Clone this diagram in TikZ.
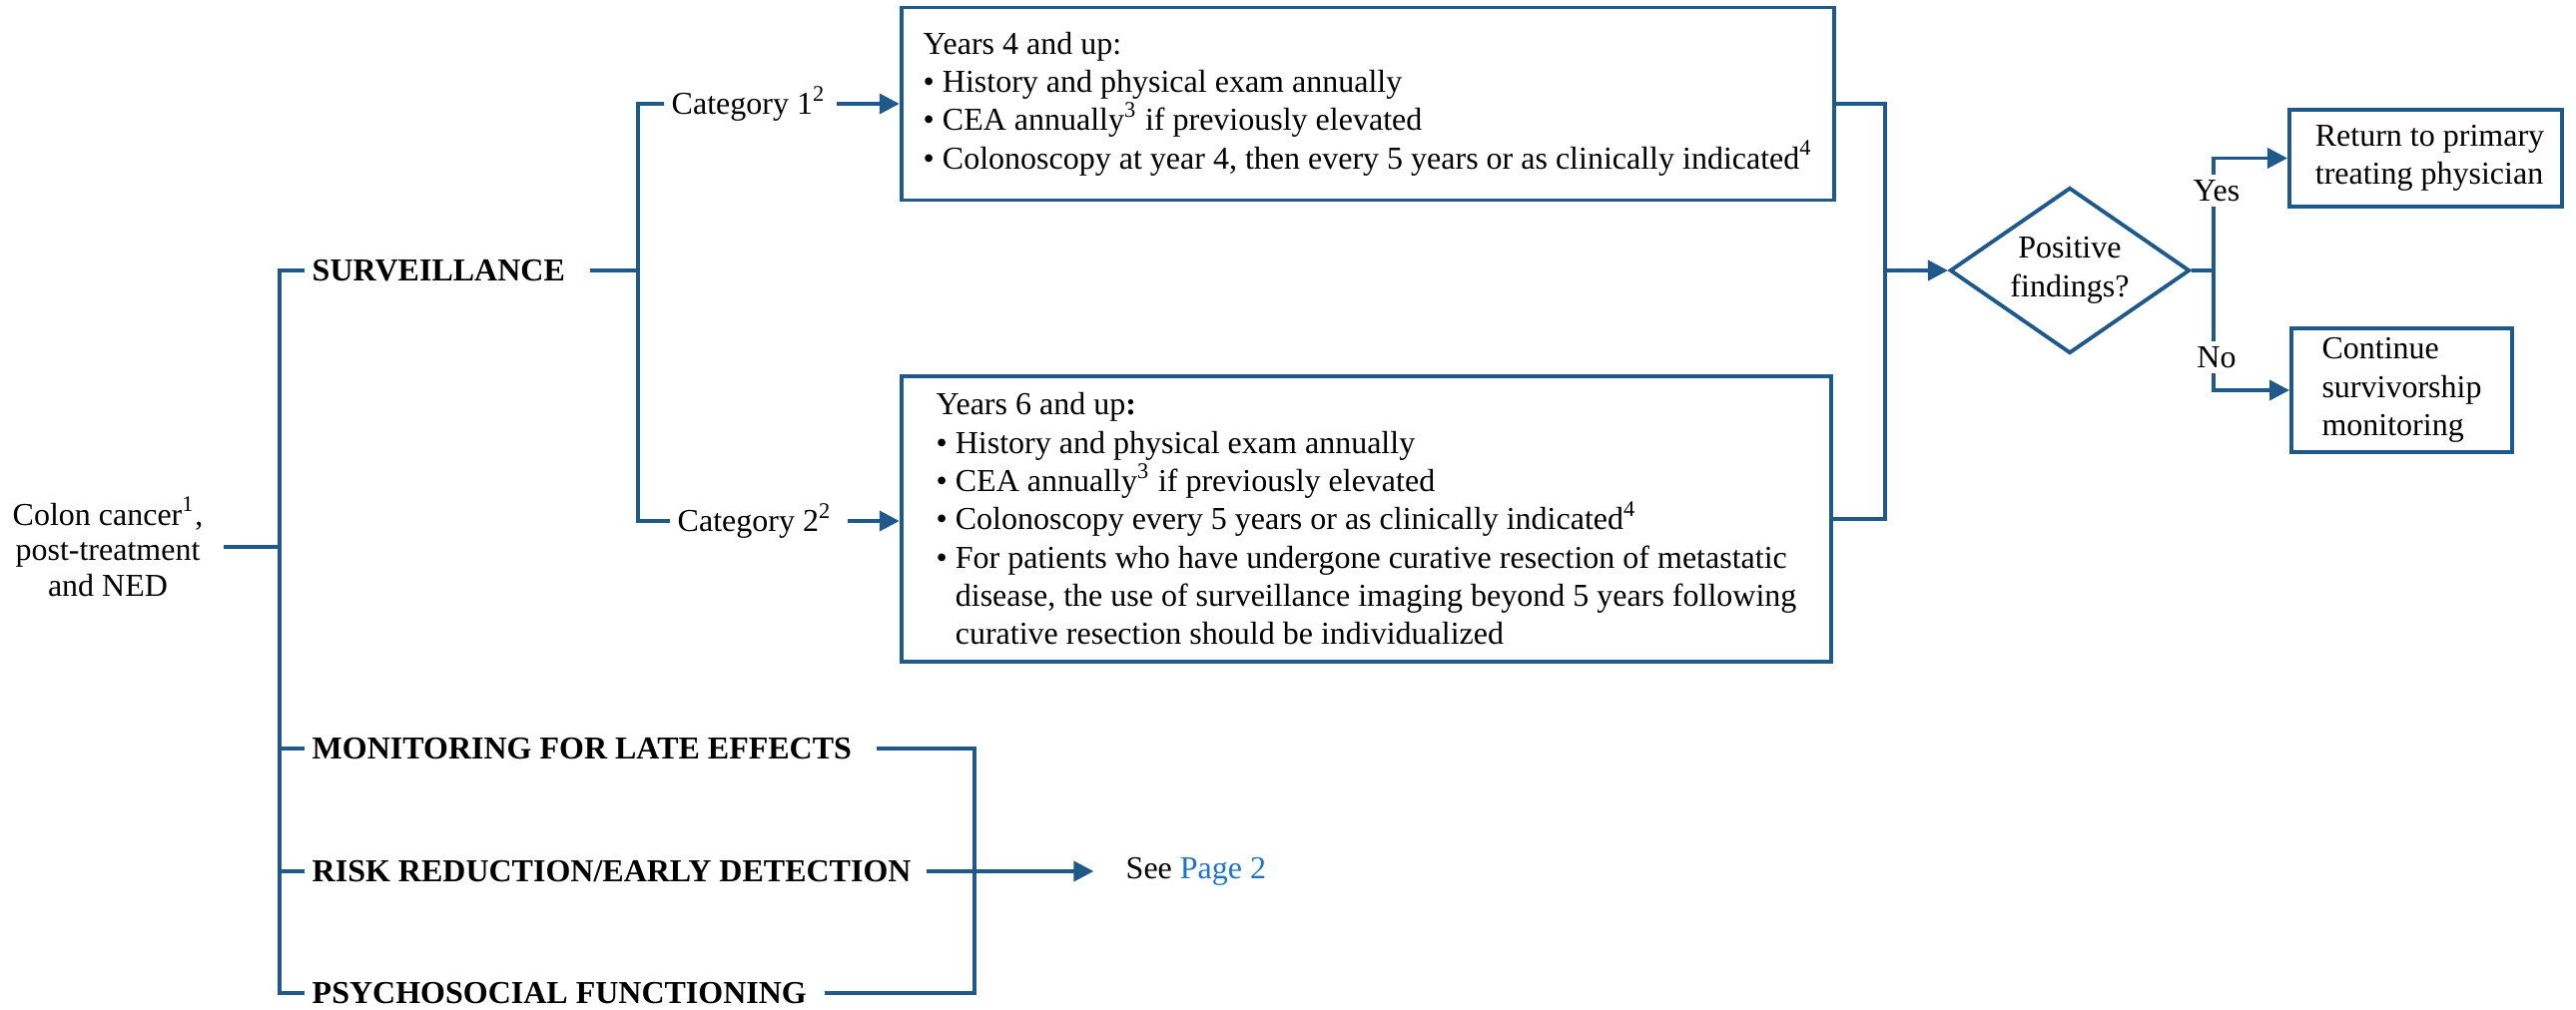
\documentclass[tikz,border=0pt]{standalone}
\usepackage{fontspec}
\setmainfont{Liberation Serif}
\usetikzlibrary{shapes.geometric,arrows.meta}
\definecolor{ln}{RGB}{31,89,137}
\definecolor{lk}{RGB}{30,115,200}
\begin{document}
\begin{tikzpicture}[x=0.01cm,y=-0.01cm,
  every node/.style={font=\fontsize{9.1}{10.9}\selectfont, inner sep=2pt},
  conn/.style={draw=ln, line width=1.1pt},
  arr/.style={conn, -{Triangle[length=0.2cm,width=0.2cm]}},
  box/.style={draw=ln, line width=1.1pt, align=left, inner sep=0pt},
  lab/.style={anchor=west, inner sep=2pt},
  head/.style={lab, font=\fontsize{9.1}{10.9}\selectfont\bfseries},
  yn/.style={fill=white, inner sep=1.5pt}
]
\useasboundingbox (0,0) rectangle (2580,1012);

% nodes
\node[align=center, font=\fontsize{9.1}{10.1}\selectfont] (colon) at (108,548) {Colon cancer\textsuperscript{1},\\post-treatment\\and NED};
\node[head] (surv) at (305,271) {SURVEILLANCE};
\node[head] (mon) at (305,750) {MONITORING FOR LATE EFFECTS};
\node[head] (risk) at (305,873) {RISK REDUCTION/EARLY DETECTION};
\node[head] (psy) at (305,995) {PSYCHOSOCIAL FUNCTIONING};
\node[lab] (cat1) at (665,104) {Category 1\textsuperscript{2}};
\node[lab] (cat2) at (671,522) {Category 2\textsuperscript{2}};

\node[box, minimum width=9.34cm, minimum height=1.93cm] (b1) at (1370,104) {Years 4 and up:\\
\textbullet\ History and physical exam annually\\
\textbullet\ CEA annually\textsuperscript{3} if previously elevated\\
\textbullet\ Colonoscopy at year 4, then every 5 years or as clinically indicated\textsuperscript{4}};

\node[box, minimum width=9.31cm, minimum height=2.86cm] (b2) at (1368.5,520) {Years 6 and up\textbf{:}\\
\textbullet\ History and physical exam annually\\
\textbullet\ CEA annually\textsuperscript{3} if previously elevated\\
\textbullet\ Colonoscopy every 5 years or as clinically indicated\textsuperscript{4}\\
\textbullet\ For patients who have undergone curative resection of metastatic\\
\phantom{\textbullet\ }disease, the use of surveillance imaging beyond 5 years following\\
\phantom{\textbullet\ }curative resection should be individualized};

\node[draw=ln, line width=1.1pt, diamond, aspect=1.45, minimum width=2.4cm, minimum height=1.66cm, inner sep=0pt, align=center] (dec) at (2073,271) {Positive\\findings?};
\node[box, minimum width=2.73cm, minimum height=0.97cm] (ret) at (2429.5,158.5) {\hspace*{0.08cm}Return to primary\\\hspace*{0.08cm}treating physician};
\node[box, minimum width=2.21cm, minimum height=1.24cm] (cont) at (2405.5,391) {Continue\\survivorship\\monitoring};
\node[lab] (see) at (1120,873) {See \textcolor{lk}{Page 2}};

% coordinates
\coordinate (tx) at (280,548);
\coordinate (sx) at (639,271);
\coordinate (mx) at (1888,271);
\coordinate (yx) at (2217,271);
\coordinate (bx) at (976,873);

% connectors
\draw[conn, shorten <=3.7pt] (colon.east) -- (colon.east -| tx);
\draw[conn] (surv.west) -- ++(-25,0) |- (psy.west);
\draw[conn] (mon.west) -- ++(-25,0);
\draw[conn] (risk.west) -- ++(-25,0);

\draw[conn, shorten <=5pt] (surv.east) -- (sx);
\draw[conn] (cat1.west) -| (sx) |- (cat2.west);
\draw[arr, shorten <=1pt] (cat1.east) -- (cat1.east -| b1.west);
\draw[arr, shorten <=2.3pt] (cat2.east) -- (cat2.east -| b2.west);

\draw[conn] (b1.east) -| (mx) |- (b2.east);
\draw[arr] (mx) -- (dec.west);
\draw[conn] (dec.east) -- (yx);
\draw[arr] (yx) |- (ret.west);
\draw[arr] (yx) |- (cont.west);
\node[yn] (yes) at (2220,191) {Yes};
\node[yn] (no) at (2220,358) {No};

\draw[conn, shorten <=5pt, shorten >=3pt] (mon.east) -| (bx) |- (psy.east);
\draw[arr, shorten <=2.3pt, shorten >=7pt] (risk.east) -- (see.west);
\end{tikzpicture}
\end{document}
